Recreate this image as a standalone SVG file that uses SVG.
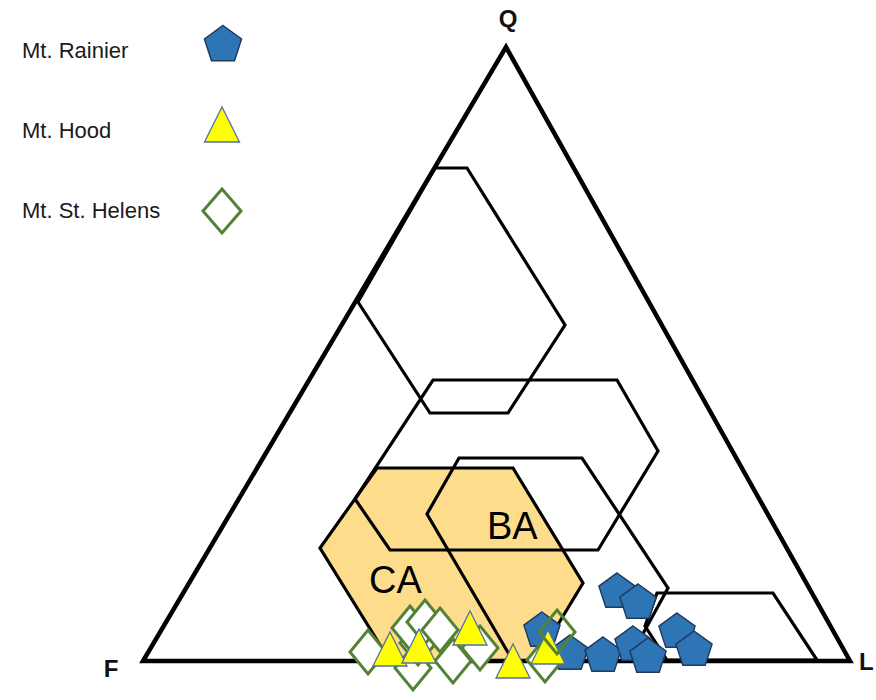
<svg xmlns="http://www.w3.org/2000/svg" xmlns:xlink="http://www.w3.org/1999/xlink" width="876" height="700" viewBox="0 0 876 700">
<style>
  .lbl { font-family: "Liberation Sans", Arial, sans-serif; font-size: 22px; fill: #1a1a1a; }
  .apex { font-family: "Liberation Sans", Arial, sans-serif; font-size: 24px; font-weight: bold; fill: #111; }
  .field { font-family: "Liberation Sans", Arial, sans-serif; font-size: 38px; fill: #000; }
  .hex { fill: none; stroke: #000; stroke-width: 3.2; stroke-linejoin: miter; }
  .tri { fill: none; stroke: #000; stroke-width: 4.5; stroke-linejoin: miter; }
  .pent { fill: #2E75B6; stroke: #1F3A5F; stroke-width: 1.5; }
  .ytri { fill: #FFFF00; stroke: #5070A8; stroke-width: 1.3; }
  .dia { fill: #FFFFFF; stroke: #548235; stroke-width: 3; }
</style>
<defs>
  <path id="pent" d="M0,-19 L18.07,-5.87 L11.17,15.37 L-11.17,15.37 L-18.07,-5.87 Z"/>
  <path id="ytri" d="M0,-17 L17,17 L-17,17 Z"/>
  <path id="dia" d="M0,-22 L18,0 L0,22 L-18,0 Z"/>
</defs>
<rect width="876" height="700" fill="#FFFFFF"/>

<g id="legend">
  <g id="legend-rainier">
    <text class="lbl" x="22" y="58">Mt. Rainier</text>
    <path class="pent" d="M223,25.5 L241.55,38.97 L234.46,60.78 L211.54,60.78 L204.45,38.97 Z"/>
  </g>
  <g id="legend-hood">
    <text class="lbl" x="22" y="138">Mt. Hood</text>
    <path class="ytri" d="M222,107 L239.5,142 L204.5,142 Z"/>
  </g>
  <g id="legend-sthelens">
    <text class="lbl" x="22" y="218">Mt. St. Helens</text>
    <path class="dia" d="M222,189 L241,211 L222,233 L203,211 Z"/>
  </g>
</g>

<g id="ca-ba-fill">
  <polygon points="377,468 513,468 583,583 536,661 390,661 320,548" fill="#FDDD8C" stroke="#000" stroke-width="3.2"/>
</g>

<g id="fields">
  <polygon id="field-top" class="hex" points="435,168 467,168 565,325 508,413 430,413 358,302"/>
  <polygon id="field-middle" class="hex" points="433,380 617,380 658,451 598,550 390,550 355,499"/>
  <polyline id="field-ba" class="hex" points="513,661 427,514 459,458 582,458 668,588 628,661"/>
  <polygon id="field-right" class="hex" points="657,593 773,593 817,660 667,660 645,626"/>
</g>

<g id="qfl-triangle">
  <polygon class="tri" points="143,661 850,661 506,47"/>
  <text class="apex" x="508" y="27" text-anchor="middle">Q</text>
  <text class="apex" x="111" y="677" text-anchor="middle">F</text>
  <text class="apex" x="859" y="670">L</text>
</g>

<g id="field-labels">
  <text class="field" x="369" y="593">CA</text>
  <text class="field" x="487" y="539">BA</text>
</g>

<g id="rainier-points">
  <use href="#pent" class="pent" x="542" y="631"/>
  <use href="#pent" class="pent" x="570" y="654"/>
  <use href="#pent" class="pent" x="603" y="656"/>
  <use href="#pent" class="pent" x="617" y="592"/>
  <use href="#pent" class="pent" x="638" y="603"/>
  <use href="#pent" class="pent" x="633" y="645"/>
  <use href="#pent" class="pent" x="648" y="657"/>
  <use href="#pent" class="pent" x="677" y="632"/>
  <use href="#pent" class="pent" x="694" y="650"/>
</g>

<g id="sthelens-points">
  <use href="#dia" class="dia" x="368" y="652"/>
  <use href="#dia" class="dia" x="413" y="668"/>
  <use href="#dia" class="dia" x="453" y="661"/>
  <use href="#dia" class="dia" x="480" y="648"/>
  <use href="#dia" class="dia" x="418" y="643"/>
  <use href="#dia" class="dia" x="410" y="628"/>
  <use href="#dia" class="dia" x="425" y="622"/>
  <use href="#dia" class="dia" x="440" y="630"/>
  <use href="#dia" class="dia" x="545" y="660"/>
</g>

<g id="hood-points">
  <use href="#ytri" class="ytri" x="390" y="649"/>
  <use href="#ytri" class="ytri" x="419" y="646"/>
  <use href="#ytri" class="ytri" x="470" y="628"/>
  <use href="#ytri" class="ytri" x="513" y="661"/>
  <use href="#ytri" class="ytri" x="548" y="647"/>
</g>

<g id="sthelens-points-top">
  <use href="#dia" class="dia" x="557" y="632" style="fill:none"/>
</g>
</svg>
